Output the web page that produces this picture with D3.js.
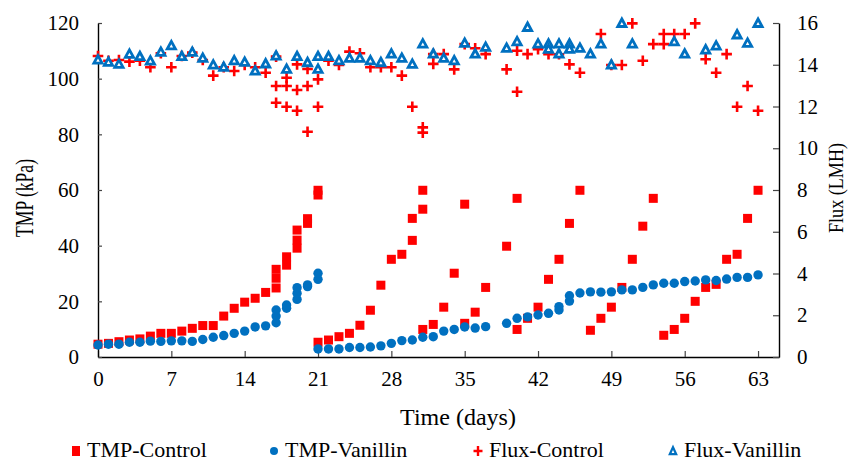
<!DOCTYPE html>
<html lang="en">
<head>
<meta charset="utf-8">
<title>TMP and Flux</title>
<script src="https://cdn.jsdelivr.net/npm/d3@7"></script>
<style>
  body { margin: 0; background: #fff; }
  text { font-family: "Liberation Serif", "Times New Roman", serif; fill: #000; }
</style>
</head>
<body>
<script>
// ---- data ----
var xTicks = [0, 7, 14, 21, 28, 35, 42, 49, 56, 63];
var yLeftTicks = [0, 20, 40, 60, 80, 100, 120];
var yRightTicks = [0, 2, 4, 6, 8, 10, 12, 14, 16];
var seriesNames = ["TMP-Control", "TMP-Vanillin", "Flux-Control", "Flux-Vanillin"];

var tmpControlDay = [0,1,2,3,4,5,6,7,8,9,10,11,12,13,14,15,16,17,17,17,18,18,19,19,19,20,20,21,21,
  21,22,23,24,25,26,27,28,29,30,30,31,31,
  31,32,33,34,35,
  35,36,37,39,40,
  40,41,42,43,44,45,46,
  47,48,49,50,51,52,53,
  54,55,56,57,58,59,60,61,62,63];
var tmpControl = [4.6,4.9,5.5,6.1,6.5,7.5,8.5,8.5,9.3,10.3,11.3,11.3,14.7,17.5,19.7,21.1,23.2,31.5,28.3,24.8,36,33,45.6,42,39.1,49.7,48,59.9,58.2,
  5.3,6.1,7.3,8.5,11.4,16.8,25.8,35.1,36.9,41.9,49.8,53.1,59.9,
  9.9,11.7,17.9,30.1,54.9,
  12.1,16.1,25,39.8,57,
  9.9,13.9,17.9,27.9,35.1,48,59.9,
  9.6,13.9,17.9,25,35.1,47,57,
  7.8,9.9,13.9,20,25,26.1,35.1,36.9,49.8,59.9];

var tmpVanillinDay = [0,1,2,3,4,5,6,7,8,9,10,11,12,13,14,15,16,17,17,17,18,18,19,19,19,20,20,21,21,
  21,22,23,24,25,26,27,28,29,30,31,32,33,34,35,36,37,39,40,41,42,43,44,44,45,45,46,47,48,49,50,51,52,53,54,55,56,57,58,59,60,61,62,63];
var tmpVanillin = [4.3,4.6,4.6,5.3,5.3,5.7,5.6,5.8,5.8,5.6,6.3,7.1,7.7,8.5,9.3,10.8,11.2,12.3,14.7,16.9,17.5,18.7,20.7,22.9,24.9,25.3,25.9,27.9,30.1,
  2.9,2.9,2.9,3.4,3.4,3.6,4.0,4.9,5.9,6.1,7.1,7.3,9.3,9.9,10.8,10.4,10.9,12.1,13.9,14.4,15.1,15.7,16.9,18.1,20.1,22,23,23.4,23.3,23.4,24.1,24.1,25,25.9,26.5,26.5,27.1,27.3,27.7,27.5,28,28.6,28.6,29.5];

var fluxControlDay = [0,1,2,3,4,5,6,7,8,9,10,11,12,13,14,15,16,17,17,17,18,18,18,19,19,19,20,20,20,21,21,
  22,23,24,25,26,27,28,29,30,31,31,32,32,33,34,35,36,37,39,40,40,41,42,43,44,45,46,48,49,50,51,52,53,54,54,55,56,57,58,59,60,61,62,63];
var fluxControl = [14.42,14.19,14.23,14.15,14.19,13.88,14.55,13.88,14.42,14.58,14.23,13.48,13.88,13.7,13.99,13.88,13.62,14.39,12.98,12.18,13.38,12.98,11.99,14.02,12.79,11.8,13.8,12.98,10.79,13.3,11.99,
  14.2,13.99,14.63,14.55,13.88,13.88,13.88,13.48,11.99,11.0,10.75,14.51,14.04,14.51,13.78,14.99,14.79,14.51,13.78,14.67,12.71,14.51,14.74,14.51,14.5,14.02,13.62,15.47,13.99,13.99,15.98,14.19,14.99,14.99,15.47,15.47,15.47,15.98,14.26,13.62,14.51,11.99,12.98,11.8];

var fluxVanillinDay = [0,1,2,3,4,5,6,7,8,9,10,11,12,13,14,15,16,17,18,19,20,21,21,22,23,24,25,26,27,28,29,30,31,32,33,34,35,36,37,39,40,41,42,43,43,44,44,45,45,46,47,48,49,50,51,55,56,58,59,61,62,63];
var fluxVanillin = [14.23,14.12,14.02,14.5,14.39,14.18,14.6,14.91,14.39,14.6,14.31,13.99,13.88,14.19,14.12,13.7,14.04,14.42,13.78,14.39,14.1,14.39,13.78,14.39,14.19,14.31,14.31,14.19,14.1,14.51,14.31,14.02,14.99,14.51,14.31,14.19,15.03,14.51,14.84,14.79,15.1,15.79,14.99,14.99,14.74,14.99,14.51,14.99,14.74,14.79,14.51,14.99,13.99,15.98,14.99,15.1,14.51,14.71,14.9,15.43,15.03,15.98];

// ---- layout ----
var w = 848, h = 461;
var red = "#FF0000", blue = "#0070C0";

var svg = d3.select("body").append("svg")
  .attr("width", w)
  .attr("height", h);

var x = d3.scaleLinear().domain([0, 65]).range([98, 779]);
var yL = d3.scaleLinear().domain([0, 120]).range([357, 23]);
var yR = d3.scaleLinear().domain([0, 16]).range([357, 23]);

function pairs(days, vals) {
  return days.map(function(d, i) { return [d, vals[i]]; });
}

// axes
var axisB = svg.append("g").attr("transform", "translate(0,357)")
  .call(d3.axisBottom(x).tickValues(xTicks).tickSizeInner(-6).tickSizeOuter(0).tickPadding(14));
var axisL = svg.append("g").attr("transform", "translate(98,0)")
  .call(d3.axisLeft(yL).tickValues(yLeftTicks).tickSizeInner(-4).tickSizeOuter(0).tickPadding(19));
var axisR = svg.append("g").attr("transform", "translate(779,0)")
  .call(d3.axisRight(yR).tickValues(yRightTicks).tickSizeInner(-6).tickSizeOuter(0).tickPadding(18));

[axisB, axisL, axisR].forEach(function(a) {
  a.select(".domain").attr("stroke", "#000").attr("stroke-width", 1.4);
  a.selectAll(".tick line").attr("stroke", "#444").attr("stroke-width", 1.2);
  a.selectAll(".tick text")
    .style("font-family", "'Liberation Serif', 'Times New Roman', serif")
    .style("font-size", "21px")
    .attr("fill", "#000");
});
axisB.selectAll(".tick text").attr("dy", "0.72em");

// axis titles (glyphs squeezed along the text like the source)
svg.append("text")
  .attr("transform", "translate(24,198) rotate(-90)")
  .attr("text-anchor", "middle")
  .attr("dy", "0.35em")
  .attr("textLength", 78)
  .attr("lengthAdjust", "spacingAndGlyphs")
  .style("font-size", "26px")
  .text("TMP (kPa)");

svg.append("text")
  .attr("transform", "translate(835,188) rotate(-90)")
  .attr("text-anchor", "middle")
  .attr("dy", "0.35em")
  .attr("textLength", 90)
  .attr("lengthAdjust", "spacingAndGlyphs")
  .style("font-size", "22px")
  .text("Flux (LMH)");

svg.append("text")
  .attr("x", 458)
  .attr("y", 425)
  .attr("text-anchor", "middle")
  .style("font-size", "24px")
  .text("Time (days)");

// marker shapes
var crossPath = "M-5.3,0H5.3M0,-5.3V5.3";
var triPath = "M0,-4.4L4.1,3.1L-4.1,3.1Z";

var plot = svg.append("g");

plot.selectAll("rect.tmpc")
  .data(pairs(tmpControlDay, tmpControl))
  .enter().append("rect")
  .attr("class", "tmpc")
  .attr("x", function(d) { return x(d[0]) - 4.5; })
  .attr("y", function(d) { return yL(d[1]) - 4.5; })
  .attr("width", 9)
  .attr("height", 9)
  .attr("fill", red);

plot.selectAll("circle.tmpv")
  .data(pairs(tmpVanillinDay, tmpVanillin))
  .enter().append("circle")
  .attr("class", "tmpv")
  .attr("cx", function(d) { return x(d[0]); })
  .attr("cy", function(d) { return yL(d[1]); })
  .attr("r", 4.7)
  .attr("fill", blue);

plot.selectAll("path.fluxc")
  .data(pairs(fluxControlDay, fluxControl))
  .enter().append("path")
  .attr("class", "fluxc")
  .attr("d", crossPath)
  .attr("transform", function(d) { return "translate(" + x(d[0]) + "," + yR(d[1]) + ")"; })
  .attr("stroke", red)
  .attr("stroke-width", 2.6)
  .attr("fill", "none");

plot.selectAll("path.fluxv")
  .data(pairs(fluxVanillinDay, fluxVanillin))
  .enter().append("path")
  .attr("class", "fluxv")
  .attr("d", triPath)
  .attr("transform", function(d) { return "translate(" + x(d[0]) + "," + yR(d[1]) + ")"; })
  .attr("stroke", blue)
  .attr("stroke-width", 2.8)
  .attr("stroke-linejoin", "miter")
  .attr("fill", "#fff");

// legend
var legendX = [76, 274, 478, 673];
var legY = 451;
var leg = svg.append("g");

leg.append("rect").attr("x", legendX[0] - 4).attr("y", legY - 5).attr("width", 8).attr("height", 10).attr("fill", red);
leg.append("circle").attr("cx", legendX[1]).attr("cy", legY).attr("r", 4).attr("fill", blue);
leg.append("path").attr("d", "M-4.5,0H4.5M0,-5V5")
  .attr("transform", "translate(" + legendX[2] + "," + legY + ")")
  .attr("stroke", red).attr("stroke-width", 2.4).attr("fill", "none");
leg.append("path").attr("d", "M0,-3.8L3.2,3.2L-3.2,3.2Z")
  .attr("transform", "translate(" + legendX[3] + "," + legY + ")")
  .attr("stroke", blue).attr("stroke-width", 2.2).attr("fill", "#fff");

leg.selectAll("text")
  .data(seriesNames)
  .enter().append("text")
  .attr("x", function(d, i) { return legendX[i] + 11; })
  .attr("y", 457)
  .style("font-size", "22px")
  .text(function(d) { return d; });
</script>
</body>
</html>
